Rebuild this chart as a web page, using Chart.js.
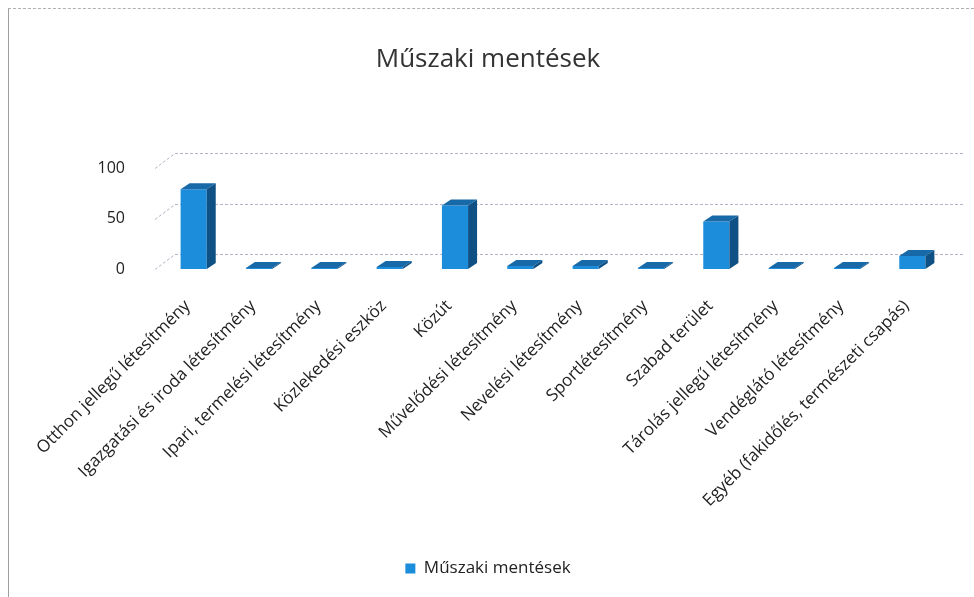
<!DOCTYPE html>
<html>
<head>
<meta charset="utf-8">
<script src="https://cdn.jsdelivr.net/npm/chart.js@4.4.1/dist/chart.umd.min.js"></script>
<style>
  body { margin: 0; background: #fff; }
  #frame {
    position: absolute; left: 8px; top: 8px; width: 965px; height: 588px;
    border-left: 1px solid #a0a0a0; border-top: 1px dashed #b0b0b0;
  }
  canvas { display: block; }
</style>
</head>
<body>
<div id="frame"><canvas id="myChart" width="958" height="588"></canvas></div>
<script>
const categories = [
  'Otthon jellegű létesítmény',
  'Igazgatási és iroda létesítmény',
  'Ipari, termelési létesítmény',
  'Közlekedési eszköz',
  'Közút',
  'Művelődési létesítmény',
  'Nevelési létesítmény',
  'Sportlétesítmény',
  'Szabad terület',
  'Tárolás jellegű létesítmény',
  'Vendéglátó létesítmény',
  'Egyéb (fakidőlés, természeti csapás)'
];
const seriesName = 'Műszaki mentések';
const values = [79, 1, 1, 2, 63, 3, 3, 1, 47, 1, 1, 13];
const yMin = 0;
const yMax = 100;
const yStep = 50;

// depth of the fake 3D wall and of the columns
const wall = { dx: 20, dy: 15 };
const depth = { dx: 9, dy: 6 };

const fake3d = {
  id: 'fake3d',
  beforeDatasetsDraw(chart) {
    const { ctx, chartArea, scales } = chart;
    ctx.save();
    ctx.strokeStyle = '#b4b4c8';
    ctx.lineWidth = 1;
    ctx.setLineDash([3, 2]);
    scales.y.ticks.forEach((t) => {
      const y = Math.round(scales.y.getPixelForValue(t.value)) + 0.5;
      ctx.beginPath();
      ctx.moveTo(chartArea.left - 6, y);
      ctx.lineTo(chartArea.left - 6 + wall.dx, y - wall.dy);
      ctx.lineTo(chart.width - 4, y - wall.dy);
      ctx.stroke();
    });
    ctx.restore();
  },
  afterDatasetsDraw(chart) {
    const { ctx } = chart;
    const meta = chart.getDatasetMeta(0);
    ctx.save();
    meta.data.forEach((bar) => {
      const { x, y, base, width } = bar.getProps(['x', 'y', 'base', 'width'], true);
      const l = x - width / 2, r = x + width / 2;
      // top
      ctx.fillStyle = '#1769a8';
      ctx.beginPath();
      ctx.moveTo(l, y);
      ctx.lineTo(r, y);
      ctx.lineTo(r + depth.dx, y - depth.dy);
      ctx.lineTo(l + depth.dx, y - depth.dy);
      ctx.closePath();
      ctx.fill();
      // side
      ctx.fillStyle = '#0f5185';
      ctx.beginPath();
      ctx.moveTo(r, y);
      ctx.lineTo(r + depth.dx, y - depth.dy);
      ctx.lineTo(r + depth.dx, base - depth.dy);
      ctx.lineTo(r, base);
      ctx.closePath();
      ctx.fill();
    });
    ctx.restore();
  }
};

const ctx = document.getElementById('myChart').getContext('2d');
const myChart = new Chart(ctx, {
  type: 'bar',
  data: {
    labels: categories,
    datasets: [
      {
        label: seriesName,
        data: values,
        backgroundColor: '#1c8ddb',
        borderWidth: 0,
        barPercentage: 0.4,
        categoryPercentage: 1
      }
    ]
  },
  options: {
    responsive: false,
    animation: false,
    layout: { padding: { top: 35, right: 0, bottom: 10, left: 0 } },
    plugins: {
      title: {
        display: true,
        text: seriesName,
        color: '#333',
        font: { family: 'Open Sans', size: 26, weight: 'normal' },
        padding: { top: 0, bottom: 93 }
      },
      legend: {
        position: 'bottom',
        labels: {
          color: '#222',
          font: { family: 'Open Sans', size: 17 },
          boxWidth: 10,
          boxHeight: 10,
          padding: 9
        }
      },
      tooltip: { enabled: false }
    },
    scales: {
      x: {
        grid: { display: false, drawTicks: false },
        border: { display: false },
        ticks: {
          color: '#222',
          font: { family: 'Open Sans', size: 17 },
          minRotation: 45,
          maxRotation: 45,
          autoSkip: false,
          padding: 27,
          labelOffset: -6
        },
        afterFit(scale) {
          scale.height = 282;
          scale.paddingLeft = 0;
          scale.paddingRight = 0;
        }
      },
      y: {
        min: yMin,
        max: yMax,
        grid: { display: false, drawTicks: false },
        border: { display: false },
        ticks: {
          stepSize: yStep,
          color: '#222',
          font: { family: 'Open Sans', size: 16 },
          padding: 36
        },
        afterFit(scale) {
          scale.width = 152;
        }
      },
      // empty right axis, only to leave room for the 3D depth
      yRight: {
        position: 'right',
        display: true,
        grid: { display: false, drawTicks: false },
        border: { display: false },
        ticks: { display: false },
        afterFit(scale) {
          scale.width = 22;
        }
      }
    }
  },
  plugins: [fake3d]
});
</script>
</body>
</html>
